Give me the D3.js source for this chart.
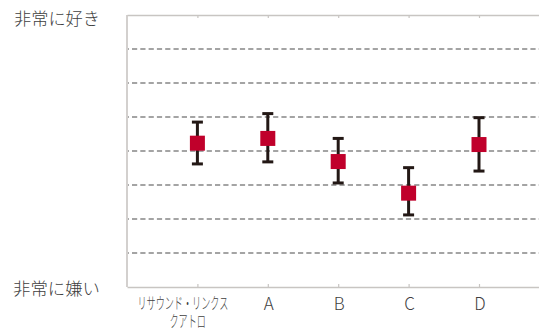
<!DOCTYPE html>
<html>
<head>
<meta charset="utf-8">
<script src="https://cdn.jsdelivr.net/npm/d3@7"></script>
<style>
  html, body { margin: 0; padding: 0; background: #fff; }
  svg { display: block; }
  text { font-family: "Noto Sans CJK JP", "Noto Sans", sans-serif; font-weight: 300; fill: #404040; }
</style>
</head>
<body>
<svg id="chart" width="539" height="331"></svg>
<script>
// Preference ratings: mean with error range per product
const categories = ["リサウンド・リンクス\nクアトロ", "A", "B", "C", "D"];
const means = [4.23, 4.37, 3.69, 2.76, 4.19];
const lows  = [3.62, 3.68, 3.06, 2.12, 3.41];
const highs = [4.85, 5.10, 4.37, 3.51, 4.98];
const gridValues = [1, 2, 3, 4, 5, 6, 7];
const topLabel = "非常に好き";
const bottomLabel = "非常に嫌い";

const svg = d3.select("#chart");
const plotLeft = 127, plotTop = 15, plotBottom = 287;
const step = 70.4;

const x = d3.scaleLinear().domain([0, categories.length + 1]).range([plotLeft, plotLeft + step * (categories.length + 1)]);
const y = d3.scaleLinear().domain([0, 8]).range([plotBottom, plotTop]);
const xRight = x.range()[1];

// dashed horizontal guides
svg.append("g").selectAll("line").data(gridValues).join("line")
  .attr("x1", plotLeft + 1).attr("x2", xRight)
  .attr("y1", d => y(d)).attr("y2", d => y(d))
  .attr("stroke", "#4a4a4a").attr("stroke-width", 1.2)
  .attr("stroke-dasharray", "5.2,3.1").attr("stroke-dashoffset", -4);

// frame: left, top and bottom axis lines with inward ticks
const frameColor = "#c8c5c2";
const ticks = categories.map((c, i) => i + 1);
const xAxisBottom = d3.axisBottom(x).tickValues(ticks).tickSizeInner(-3).tickSizeOuter(0).tickFormat("");
const xAxisTop = d3.axisTop(x).tickValues(ticks).tickSizeInner(-3).tickSizeOuter(0).tickFormat("");
const gB = svg.append("g").attr("transform", `translate(0,${plotBottom})`).call(xAxisBottom);
const gT = svg.append("g").attr("transform", `translate(0,${plotTop})`).call(xAxisTop);
[gB, gT].forEach(g => {
  g.select(".domain").attr("stroke", frameColor).attr("stroke-width", 1.6);
  g.selectAll(".tick line").attr("stroke", frameColor).attr("stroke-width", 1.2);
});
svg.append("line")
  .attr("x1", plotLeft).attr("x2", plotLeft).attr("y1", plotTop).attr("y2", plotBottom)
  .attr("stroke", frameColor).attr("stroke-width", 1.6);

// error bars
const barColor = "#231815";
const capW = 11;
const eb = svg.append("g").selectAll("g").data(categories.map((c, i) => i)).join("g");
eb.append("line")
  .attr("x1", i => x(i + 1)).attr("x2", i => x(i + 1))
  .attr("y1", i => y(highs[i])).attr("y2", i => y(lows[i]))
  .attr("stroke", barColor).attr("stroke-width", 3);
eb.append("line")
  .attr("x1", i => x(i + 1) - capW / 2).attr("x2", i => x(i + 1) + capW / 2)
  .attr("y1", i => y(highs[i])).attr("y2", i => y(highs[i]))
  .attr("stroke", barColor).attr("stroke-width", 3);
eb.append("line")
  .attr("x1", i => x(i + 1) - capW / 2).attr("x2", i => x(i + 1) + capW / 2)
  .attr("y1", i => y(lows[i])).attr("y2", i => y(lows[i]))
  .attr("stroke", barColor).attr("stroke-width", 3);

// mean markers
const sq = 15;
svg.append("g").selectAll("rect").data(means).join("rect")
  .attr("x", (d, i) => x(i + 1) - sq / 2)
  .attr("y", d => y(d) - sq / 2)
  .attr("width", sq).attr("height", sq)
  .attr("fill", "#c0002b");

// scale end labels
svg.append("text").attr("x", 14).attr("y", y(8) + 9.5)
  .attr("font-size", 17).attr("textLength", 86).attr("lengthAdjust", "spacingAndGlyphs")
  .text(topLabel);
svg.append("text").attr("x", 13).attr("y", y(0) + 8)
  .attr("font-size", 17).attr("textLength", 87).attr("lengthAdjust", "spacingAndGlyphs")
  .text(bottomLabel);

// category labels; the long kana name is set narrow, in two lines of one text
const sx = 0.57;
categories.forEach((c, i) => {
  const cx = x(i + 1);
  const lines = c.split("\n");
  if (lines.length > 1) {
    const t = svg.append("text")
      .attr("transform", `translate(${cx - 60},308.5) scale(${sx},1)`)
      .attr("font-size", 16);
    t.append("tspan").attr("x", 0).attr("y", 0).text(lines[0]);
    t.append("tspan").attr("x", 32 / sx).attr("y", 19).text(lines[1]);
  } else {
    svg.append("text").attr("x", cx + 1).attr("y", 310)
      .attr("text-anchor", "middle").attr("font-size", 17)
      .text(c);
  }
});
</script>
</body>
</html>
